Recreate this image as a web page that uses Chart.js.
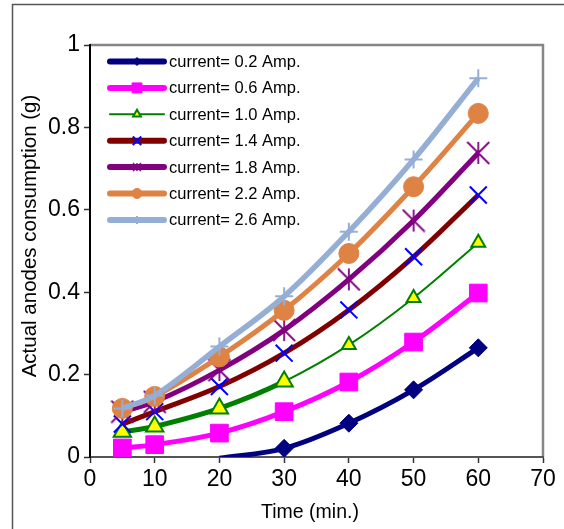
<!DOCTYPE html>
<html>
<head>
<meta charset="utf-8">
<script src="https://cdn.jsdelivr.net/npm/chart.js@4/dist/chart.umd.min.js"></script>
<style>
  html, body { margin: 0; padding: 0; background: #fff; }
  #wrap { position: relative; width: 564px; height: 529px; }
</style>
</head>
<body>
<div id="wrap"><canvas id="myChart" width="564" height="529"></canvas></div>
<script>
// time axis (min.)
const times = [5, 10, 20, 30, 40, 50, 60]

// anode consumption (g) for each current
const amp02 = [null, null, -0.003, 0.021, 0.082, 0.163, 0.265]
const amp06 = [0.022, 0.03, 0.058, 0.11, 0.182, 0.279, 0.398]
const amp10 = [0.061, 0.074, 0.118, 0.183, 0.272, 0.386, 0.52]
const amp14 = [0.08, 0.11, 0.171, 0.252, 0.357, 0.486, 0.636]
const amp18 = [0.11, 0.134, 0.211, 0.308, 0.431, 0.574, 0.738]
const amp22 = [0.118, 0.147, 0.243, 0.356, 0.494, 0.656, 0.834]
const amp26 = [0.118, 0.149, 0.268, 0.39, 0.547, 0.722, 0.919]

const labels = ['current= 0.2 Amp.', 'current= 0.6 Amp.', 'current= 1.0 Amp.', 'current= 1.4 Amp.',
  'current= 1.8 Amp.', 'current= 2.2 Amp.', 'current= 2.6 Amp.']

const xTicks = [0, 10, 20, 30, 40, 50, 60, 70]
const yTicks = [0, 0.2, 0.4, 0.6, 0.8, 1]

const xTitle = 'Time (min.)'
const yTitle = 'Actual anodes consumption (g)'

const FONT = "'Liberation Sans', Arial, sans-serif"

// excel style star marker (X plus vertical bar)
const makeStar = function(size, color, lw) {
  const c = document.createElement('canvas')
  c.width = size + 2
  c.height = size + 2
  const g = c.getContext('2d')
  g.strokeStyle = color
  g.lineWidth = lw
  const a = 1, b = size + 1, m = (size + 2) / 2
  g.beginPath()
  g.moveTo(a, a); g.lineTo(b, b)
  g.moveTo(b, a); g.lineTo(a, b)
  g.moveTo(m, a); g.lineTo(m, b)
  g.stroke()
  return c
}
const starBig = makeStar(22, '#800080', 1.8)
const starSmall = makeStar(8, '#800080', 1.5)

const pts = arr => arr.map((v, i) => ({ x: times[i], y: v }))

const series = [
  { data: amp02, line: '#000080', width: 5, style: 'rectRot', radius: 9, fill: '#000080', edge: '#000080', lw: 1,
    lgStyle: 'rectRot', lgRadius: 4 },
  { data: amp06, line: '#FF00FF', width: 5, style: 'rect', radius: 12.5, fill: '#FF00FF', edge: '#FF00FF', lw: 1,
    lgStyle: 'rect', lgRadius: 7 },
  { data: amp10, line: '#008000', width: 2, style: 'triangle', radius: 9, fill: '#FFFF00', edge: '#008000', lw: 2,
    lgStyle: 'triangle', lgRadius: 4.5 },
  { data: amp14, line: '#800000', width: 5, style: 'crossRot', radius: 12, fill: '#0000FF', edge: '#0000FF', lw: 2,
    lgStyle: 'crossRot', lgRadius: 6 },
  { data: amp18, line: '#800080', width: 5, style: starBig, radius: 12, fill: '#800080', edge: '#800080', lw: 2,
    lgStyle: starSmall, lgRadius: 5 },
  { data: amp22, line: '#DE8344', width: 5, style: 'circle', radius: 10, fill: '#DE8344', edge: '#DE8344', lw: 1,
    lgStyle: 'circle', lgRadius: 5 },
  { data: amp26, line: '#95AED5', width: 5.5, style: 'cross', radius: 9, fill: '#95AED5', edge: '#95AED5', lw: 2,
    lgStyle: 'cross', lgRadius: 4 }
]

const datasets = series.map((s, i) => ({
  label: labels[i],
  data: pts(s.data),
  borderColor: s.line,
  borderWidth: s.width,
  backgroundColor: s.fill,
  pointStyle: s.style,
  pointRadius: ctx => {
    const v = ctx.raw && ctx.raw.y
    if (v == null || v < 0) return 0
    if (i === 2) return ctx.dataIndex < 4 ? 10 : 8
    return s.radius
  },
  pointHoverRadius: s.radius,
  pointBackgroundColor: s.fill,
  pointBorderColor: s.edge,
  pointBorderWidth: s.lw,
  tension: 0.35,
  order: 6 - i,
  clip: { left: 20, top: 20, right: 20, bottom: 0 },
  segment: i === 2 ? { borderWidth: ctx => ctx.p0DataIndex < 3 ? 5 : 2 } : undefined
}))

// frame, plot border, titles and legend drawn by hand to look like the excel figure
const decor = {
  id: 'decor',
  beforeDraw(chart) {
    const c = chart.ctx
    c.save()
    c.fillStyle = '#fff'
    c.fillRect(0, 0, chart.width, chart.height)
    c.strokeStyle = '#555'
    c.lineWidth = 1.5
    c.beginPath()
    c.moveTo(12.5, chart.height)
    c.lineTo(12.5, 4.5)
    c.lineTo(chart.width, 4.5)
    c.stroke()
    const a = chart.chartArea
    c.strokeStyle = '#868686'
    c.lineWidth = 2.5
    c.beginPath()
    c.moveTo(a.left, a.top)
    c.lineTo(a.right, a.top)
    c.lineTo(a.right, a.bottom)
    c.stroke()
    c.restore()
  },
  afterDraw(chart) {
    const c = chart.ctx
    const a = chart.chartArea
    c.save()
    // axis titles
    c.fillStyle = '#000'
    c.textAlign = 'center'
    c.textBaseline = 'middle'
    c.font = '19.5px ' + FONT
    c.fillText(xTitle, 310, 513)
    c.save()
    c.translate(30, 236)
    c.rotate(-Math.PI / 2)
    c.font = '20.5px ' + FONT
    c.fillText(yTitle, 0, 0)
    c.restore()
    // legend
    c.textAlign = 'left'
    c.font = '16.5px ' + FONT
    series.forEach((s, i) => {
      const y = a.top + 16.5 + i * 26.4
      const x0 = a.left + 20
      const x1 = a.left + 74
      c.strokeStyle = s.line
      c.lineWidth = i === 2 ? 2 : 6
      c.lineCap = 'round'
      c.beginPath()
      c.moveTo(x0, y)
      c.lineTo(x1, y)
      c.stroke()
      c.lineCap = 'butt'
      c.fillStyle = s.fill
      c.strokeStyle = s.edge
      c.lineWidth = s.lw
      Chart.helpers.drawPoint(c, {
        pointStyle: s.lgStyle, radius: s.lgRadius, rotation: 0, borderWidth: s.lw
      }, (x0 + x1) / 2, y)
      c.fillStyle = '#000'
      c.fillText(labels[i], a.left + 79, y + 1)
    })
    c.restore()
  }
}

const ctx = document.getElementById('myChart').getContext('2d')
const myChart = new Chart(ctx, {
  type: 'line',
  data: { datasets: datasets },
  options: {
    responsive: false,
    animation: false,
    events: [],
    layout: { padding: { left: 0, top: 45, right: 21, bottom: 0 } },
    plugins: { legend: { display: false }, tooltip: { enabled: false } },
    scales: {
      x: {
        type: 'linear',
        min: 0,
        max: 70,
        afterBuildTicks: axis => { axis.ticks = xTicks.map(v => ({ value: v })) },
        afterFit: axis => { axis.height = 72 },
        border: { color: '#555', width: 2 },
        grid: { drawOnChartArea: false, color: '#333', tickLength: 6, tickWidth: 1.5 },
        ticks: { color: '#000', font: { family: FONT, size: 23 }, padding: 3 }
      },
      y: {
        min: 0,
        max: 1,
        afterBuildTicks: axis => { axis.ticks = yTicks.map(v => ({ value: v })) },
        afterFit: axis => { axis.width = 90 },
        border: { color: '#000', width: 2 },
        grid: { drawOnChartArea: false, color: '#333', tickLength: 6, tickWidth: 1.5 },
        ticks: { color: '#000', font: { family: FONT, size: 23 }, padding: 4, callback: v => String(+v.toFixed(1)) }
      }
    }
  },
  plugins: [decor]
})
</script>
</body>
</html>
